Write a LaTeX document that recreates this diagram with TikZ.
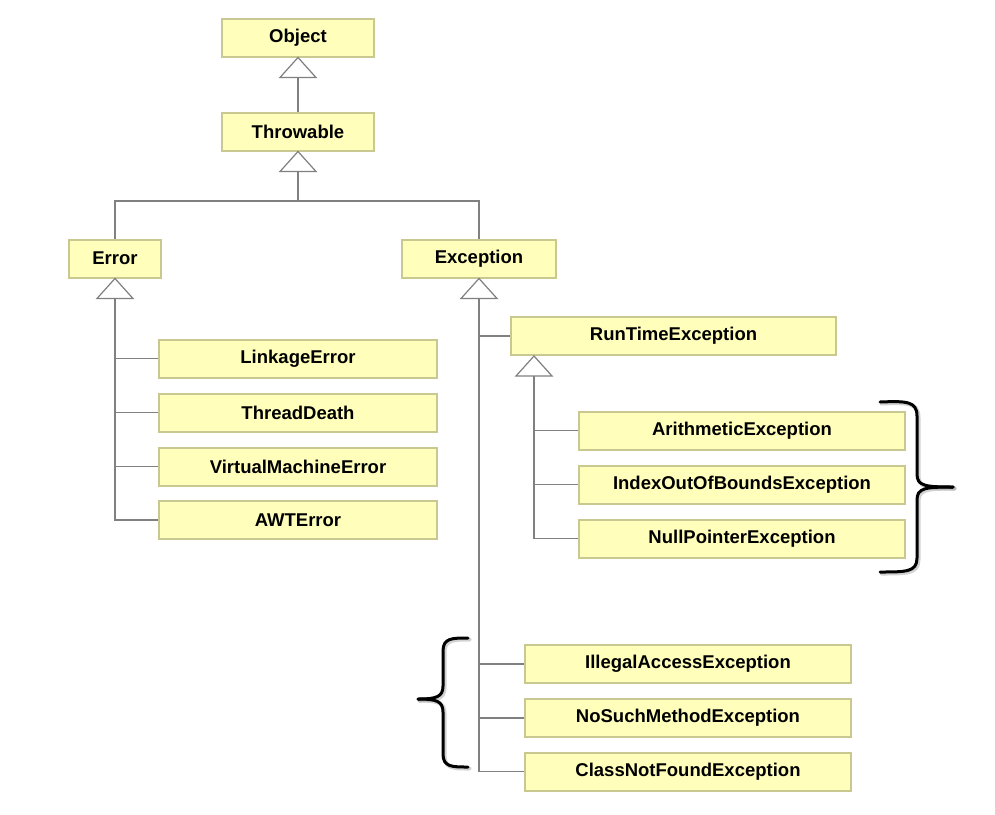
\documentclass[tikz,border=0pt]{standalone}
\usepackage{fontspec}
\setmainfont{Liberation Sans}
\begin{document}
\begin{tikzpicture}[x=1pt,y=-1pt,
  cls/.style={draw=boxborder, fill=boxfill, line width=2pt, minimum height=38pt,
    inner sep=0pt, font=\fontsize{18.5}{21}\selectfont\bfseries, text=black},
  conn/.style={draw=linegray, line width=1.5pt},
  tri/.style={draw=linegray, fill=white, line width=1.2pt, line join=miter},
  brace/.style={draw=black, line width=3pt, line cap=round, line join=round},
  braceshadow/.style={draw=black!35, line width=4pt, line cap=round, line join=round, opacity=0.5}
]
\definecolor{boxfill}{HTML}{FFFFBB}
\definecolor{boxborder}{HTML}{C8C890}
\definecolor{linegray}{HTML}{808080}
\useasboundingbox[fill=white] (0,0) rectangle (995,814);

% nodes
\node[cls, minimum width=152pt] (obj) at (298,37.5) {Object};
\node[cls, minimum width=152pt] (thr) at (298,131.5) {Throwable};
\node[cls, minimum width=92pt]  (err) at (115,258.5) {Error};
\node[cls, minimum width=154pt] (exc) at (479,258.5) {Exception};

\node[cls, minimum width=278pt] (lnk) at (298,358.5) {LinkageError};
\node[cls, minimum width=278pt] (thd) at (298,412.5) {ThreadDeath};
\node[cls, minimum width=278pt] (vme) at (298,466.5) {VirtualMachineError};
\node[cls, minimum width=278pt] (awt) at (298,520) {AWTError};

\node[cls, minimum width=325pt] (rte) at (673.5,336) {RunTimeException};
\node[cls, minimum width=326pt] (ari) at (742,430.5) {ArithmeticException};
\node[cls, minimum width=326pt] (ind) at (742,484.5) {IndexOutOfBoundsException};
\node[cls, minimum width=326pt] (nul) at (742,538.5) {NullPointerException};

\node[cls, minimum width=326pt] (ill) at (688,664) {IllegalAccessException};
\node[cls, minimum width=326pt] (nsm) at (688,718) {NoSuchMethodException};
\node[cls, minimum width=326pt] (cnf) at (688,771.5) {ClassNotFoundException};

% triangle apexes and bases
\coordinate (rteapex) at ([xshift=24pt]rte.south west);
\foreach \n in {obj,thr,err,exc} {
  \draw[tri] (\n.south) -- ++(-18,20) -- ++(36,0) -- cycle;
  \coordinate (\n base) at ([yshift=-20pt]\n.south);
}
\draw[tri] (rteapex) -- ++(-18,20) -- ++(36,0) -- cycle;
\coordinate (rtebase) at ([yshift=-20pt]rteapex);
\coordinate (bus) at (298,201);

% connectors
\draw[conn] (objbase) -- (thr.north);
\draw[conn] (thrbase) -- (bus);
\draw[conn] (err.north) |- (bus) -| (exc.north);

\draw[conn] (errbase) |- (awt.west);
\foreach \c in {lnk,thd,vme} \draw[conn] (errbase |- \c.west) -- (\c.west);

\draw[conn] (excbase) |- (cnf.west);
\foreach \c in {rte,ill,nsm} \draw[conn] (excbase |- \c.west) -- (\c.west);

\draw[conn] (rtebase) |- (nul.west);
\foreach \c in {ari,ind} \draw[conn] (rtebase |- \c.west) -- (\c.west);

% braces
\begin{scope}[shift={(1.5,1.5)}]
\draw[braceshadow] (880,402) .. controls (906,401) and (917,401) .. (917,416) -- (917,474)
  .. controls (917,486) and (925,487) .. (953,487);
\draw[braceshadow] (953,487) .. controls (925,487) and (917,488) .. (917,500) -- (917,558)
  .. controls (917,572) and (906,572) .. (880,572);
\draw[braceshadow] (468,638) .. controls (452,638) and (443,638) .. (443,651) -- (443,686)
  .. controls (443,697) and (436,699) .. (418,699);
\draw[braceshadow] (418,699) .. controls (436,699) and (443,701) .. (443,712) -- (443,754)
  .. controls (443,767) and (452,767) .. (468,767);
\end{scope}
\draw[brace] (880,402) .. controls (906,401) and (917,401) .. (917,416) -- (917,474)
  .. controls (917,486) and (925,487) .. (953,487);
\draw[brace] (953,487) .. controls (925,487) and (917,488) .. (917,500) -- (917,558)
  .. controls (917,572) and (906,572) .. (880,572);
\draw[brace] (468,638) .. controls (452,638) and (443,638) .. (443,651) -- (443,686)
  .. controls (443,697) and (436,699) .. (418,699);
\draw[brace] (418,699) .. controls (436,699) and (443,701) .. (443,712) -- (443,754)
  .. controls (443,767) and (452,767) .. (468,767);
\end{tikzpicture}
\end{document}
